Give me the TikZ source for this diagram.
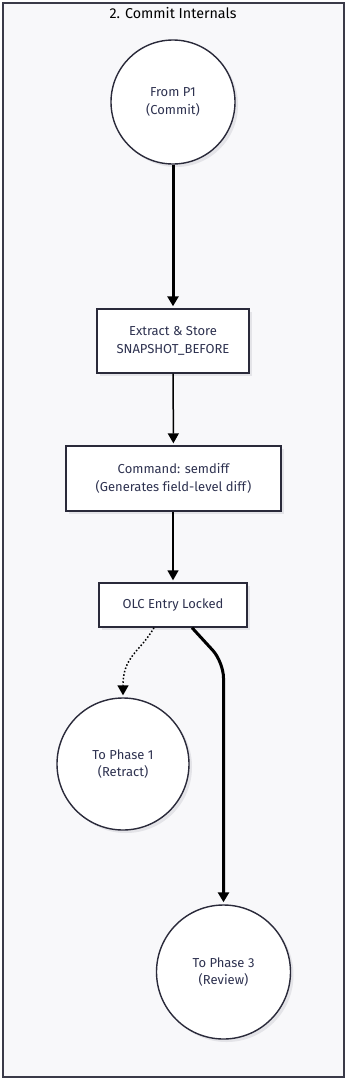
\documentclass[tikz,border=0pt]{standalone}
\usepackage{fontspec}
\setmainfont{Fira Sans}[Ligatures={NoCommon}]
\usetikzlibrary{arrows.meta,shapes.geometric}
\definecolor{framebg}{HTML}{F8F8FA}
\definecolor{framedraw}{HTML}{3A3A48}
\definecolor{nodedraw}{HTML}{2A2A3A}
\definecolor{txt}{HTML}{2E3250}
\definecolor{shadowc}{HTML}{E4E4E8}
\tikzset{
  boxnode/.style={draw=nodedraw, line width=1.4pt, fill=white, rectangle, inner sep=0pt, align=center, text=txt, font=\fontsize{13}{17.5}\selectfont},
  circnode/.style={draw=nodedraw, line width=1.4pt, fill=white, circle, inner sep=0pt, align=center, text=txt, font=\fontsize{13}{17.5}\selectfont},
  thinarrow/.style={draw=black, line width=1.5pt, -{Triangle[length=10pt,width=11pt]}, shorten >=2pt},
  thickarrow/.style={draw=black, line width=3pt, -{Triangle[length=10pt,width=11pt]}, shorten >=2pt},
  dotarrow/.style={draw=black, line width=1.5pt, dotted, -{Triangle[length=10pt,width=11pt]}, shorten >=2pt},
}
\begin{document}
\begin{tikzpicture}[x=1pt,y=-1pt]
\useasboundingbox (0,0) rectangle (346,1080);
\fill[white] (0,0) rectangle (346,1080);
\draw[framedraw, fill=framebg, line width=1.2pt] (3,3) rectangle (344,1077);
\node[text=black, font=\fontsize{14.3}{17}\selectfont] (title) at (173,13.5) {2. Commit Internals};
% shadows
\fill[shadowc] (176,105) circle (62);
\fill[shadowc] (100,312) rectangle (252,376);
\fill[shadowc] (69,449) rectangle (284,514);
\fill[shadowc] (102,586) rectangle (250,630);
\fill[shadowc] (126,767) circle (66);
\fill[shadowc] (226.5,975) circle (67);
% nodes
\node[circnode, minimum size=124pt] (c1) at (173,102) {From P1\\(Commit)};
\node[boxnode, minimum width=152pt, minimum height=64pt] (b1) at (173,341) {Extract \& Store\\SNAPSHOT\_BEFORE};
\node[boxnode, minimum width=215pt, minimum height=65pt] (b2) at (173.5,478.5) {Command: semdiff\\(Generates field-level diff)};
\node[boxnode, minimum width=148pt, minimum height=44pt] (b3) at (173,605) {OLC Entry Locked};
\node[circnode, minimum size=132pt] (c2) at (123,764) {To Phase 1\\(Retract)};
\node[circnode, minimum size=134pt] (c3) at (223.5,972) {To Phase 3\\(Review)};
% connectors
\draw[thickarrow] (c1) -- (b1);
\draw[thinarrow] (b1) -- (b2);
\draw[thinarrow] (b2.south -| b3.north) -- (b3);
\draw[dotarrow] ([xshift=-19pt]b3.south) .. controls (140,652) and (123,656) .. (c2.north);
\draw[thickarrow, rounded corners=16pt] ([xshift=19pt]b3.south) -- (223.5,662) -- (c3.north);
\end{tikzpicture}
\end{document}
